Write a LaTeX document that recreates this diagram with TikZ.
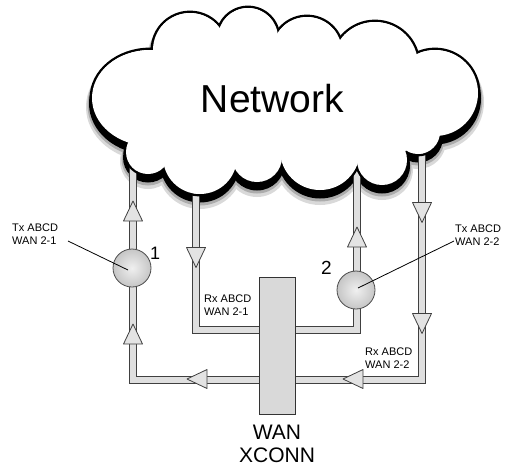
\documentclass[tikz,border=0pt]{standalone}
\usepackage{fontspec}
\setmainfont{Liberation Sans}
\newcommand\cloudcircles{190/50/37, 248/38/30, 307/52/35, 375/65/43, 435/93/43, 418/132/22, 382/160/25, 320/150/40, 257/157/25, 200/157/37, 148/152/22, 400/145/8}
\newcommand\cloudlayer[3]{% #1 = extra radius, #2 = shift down, #3 = style
  \foreach \cx/\cy/\cr in \cloudcircles {
    \pgfmathsetmacro\rr{\cr+#1}
    \path[#3] (\cx,\cy+#2) circle[radius=\rr pt];
  }
  \pgfmathsetmacro\rxa{58+#1}\pgfmathsetmacro\rya{48+#1}
  \path[#3] (150,98+#2) circle[x radius=\rxa pt, y radius=\rya pt];
  \pgfmathsetmacro\rxb{150+#1}\pgfmathsetmacro\ryb{58+#1}
  \path[#3] (285,100+#2) circle[x radius=\rxb pt, y radius=\ryb pt];
}
\newcommand\triup[2]{\filldraw[tri] ({#1-9.5},{#2+10}) -- (#1,{#2-10}) -- ({#1+9.5},{#2+10}) -- cycle;}
\newcommand\tridown[2]{\filldraw[tri] ({#1-9.5},{#2-10}) -- (#1,{#2+10}) -- ({#1+9.5},{#2-10}) -- cycle;}
\newcommand\trileft[2]{\filldraw[tri] ({#1+10},{#2-9.5}) -- ({#1-10},#2) -- ({#1+10},{#2+9.5}) -- cycle;}
\begin{document}
\begin{tikzpicture}[x=1pt,y=-1pt,
  pipe/.style={draw=black!75, double=gray!25, double distance=5.5pt, line width=1pt},
  tri/.style={fill=gray!22, draw=black!75, line width=0.8pt, line join=round},
  ballnode/.style={circle, minimum size=38pt, inner sep=0pt, inner color=gray!12, outer color=gray!45, draw=black!70, line width=0.8pt},
  lbl/.style={font=\fontsize{11}{13}\selectfont, inner sep=0pt, anchor=base west},
  leader/.style={draw=black, line width=0.8pt}]
\useasboundingbox (0,0) rectangle (510,467);
% cloud shadow
\cloudlayer{6}{9}{fill=gray!30}
\cloudlayer{4.5}{7}{fill=gray!65}
\cloudlayer{3}{5.5}{fill=black}
% pipe end coordinates
\coordinate (pa) at (133,140);
\coordinate (pb) at (133,380);
\coordinate (pc) at (422,380);
\coordinate (pd) at (422,140);
\coordinate (qa) at (196,150);
\coordinate (qb) at (196,330);
\coordinate (qc) at (357,330);
\coordinate (qd) at (357,150);
\draw[pipe] (pa) -- (pb) -- (pc) -- (pd);
\draw[pipe] (qa) -- (qb) -- (qc) -- (qd);
% flow arrows
\triup{133}{211}
\triup{133}{334}
\triup{357}{237}
\tridown{196}{257.5}
\tridown{422}{212.5}
\tridown{422}{323.5}
\trileft{197}{379}
\trileft{353}{379}
% monitoring points
\node[ballnode] (b1) at (132,268) {};
\node[ballnode] (b2) at (356,290) {};
% cross-connect
\node[draw=black!80, fill=gray!30, line width=0.8pt, minimum width=36pt, minimum height=137pt, inner sep=0pt] (xc) at (277,345.5) {};
% cloud
\cloudlayer{1.2}{0}{draw=black, line width=2.4pt}
\cloudlayer{0}{0}{fill=white}
\node[font=\fontsize{39}{44}\selectfont, anchor=base, inner sep=0pt] (net) at (272.5,112) {Network};
% labels
\node[lbl] (t1a) at (12,231) {Tx ABCD};
\node[lbl] (t1b) at (12,244) {WAN 2-1};
\coordinate (l1) at (68,241);
\draw[leader] (l1) -- ([shift={(-4,2)}]b1.center);
\node[font=\fontsize{18}{20}\selectfont, anchor=base west, inner sep=0pt] (n1) at (150,259) {1};
\node[lbl] (r1a) at (204,302) {Rx ABCD};
\node[lbl] (r1b) at (204,315) {WAN 2-1};
\node[lbl] (t2a) at (455,232) {Tx ABCD};
\node[lbl] (t2b) at (455,245) {WAN 2-2};
\coordinate (l2) at (454,241);
\draw[leader] (l2) -- ([shift={(2,-2)}]b2.center);
\node[font=\fontsize{19}{21}\selectfont, anchor=base west, inner sep=0pt] (n2) at (321,274) {2};
\node[lbl] (r2a) at (365,355) {Rx ABCD};
\node[lbl] (r2b) at (365,368) {WAN 2-2};
\node[font=\fontsize{21}{25}\selectfont, anchor=base, inner sep=0pt] (w1) at (277,439) {WAN};
\node[font=\fontsize{21}{25}\selectfont, anchor=base, inner sep=0pt] (w2) at (277,462) {XCONN};
\end{tikzpicture}
\end{document}
